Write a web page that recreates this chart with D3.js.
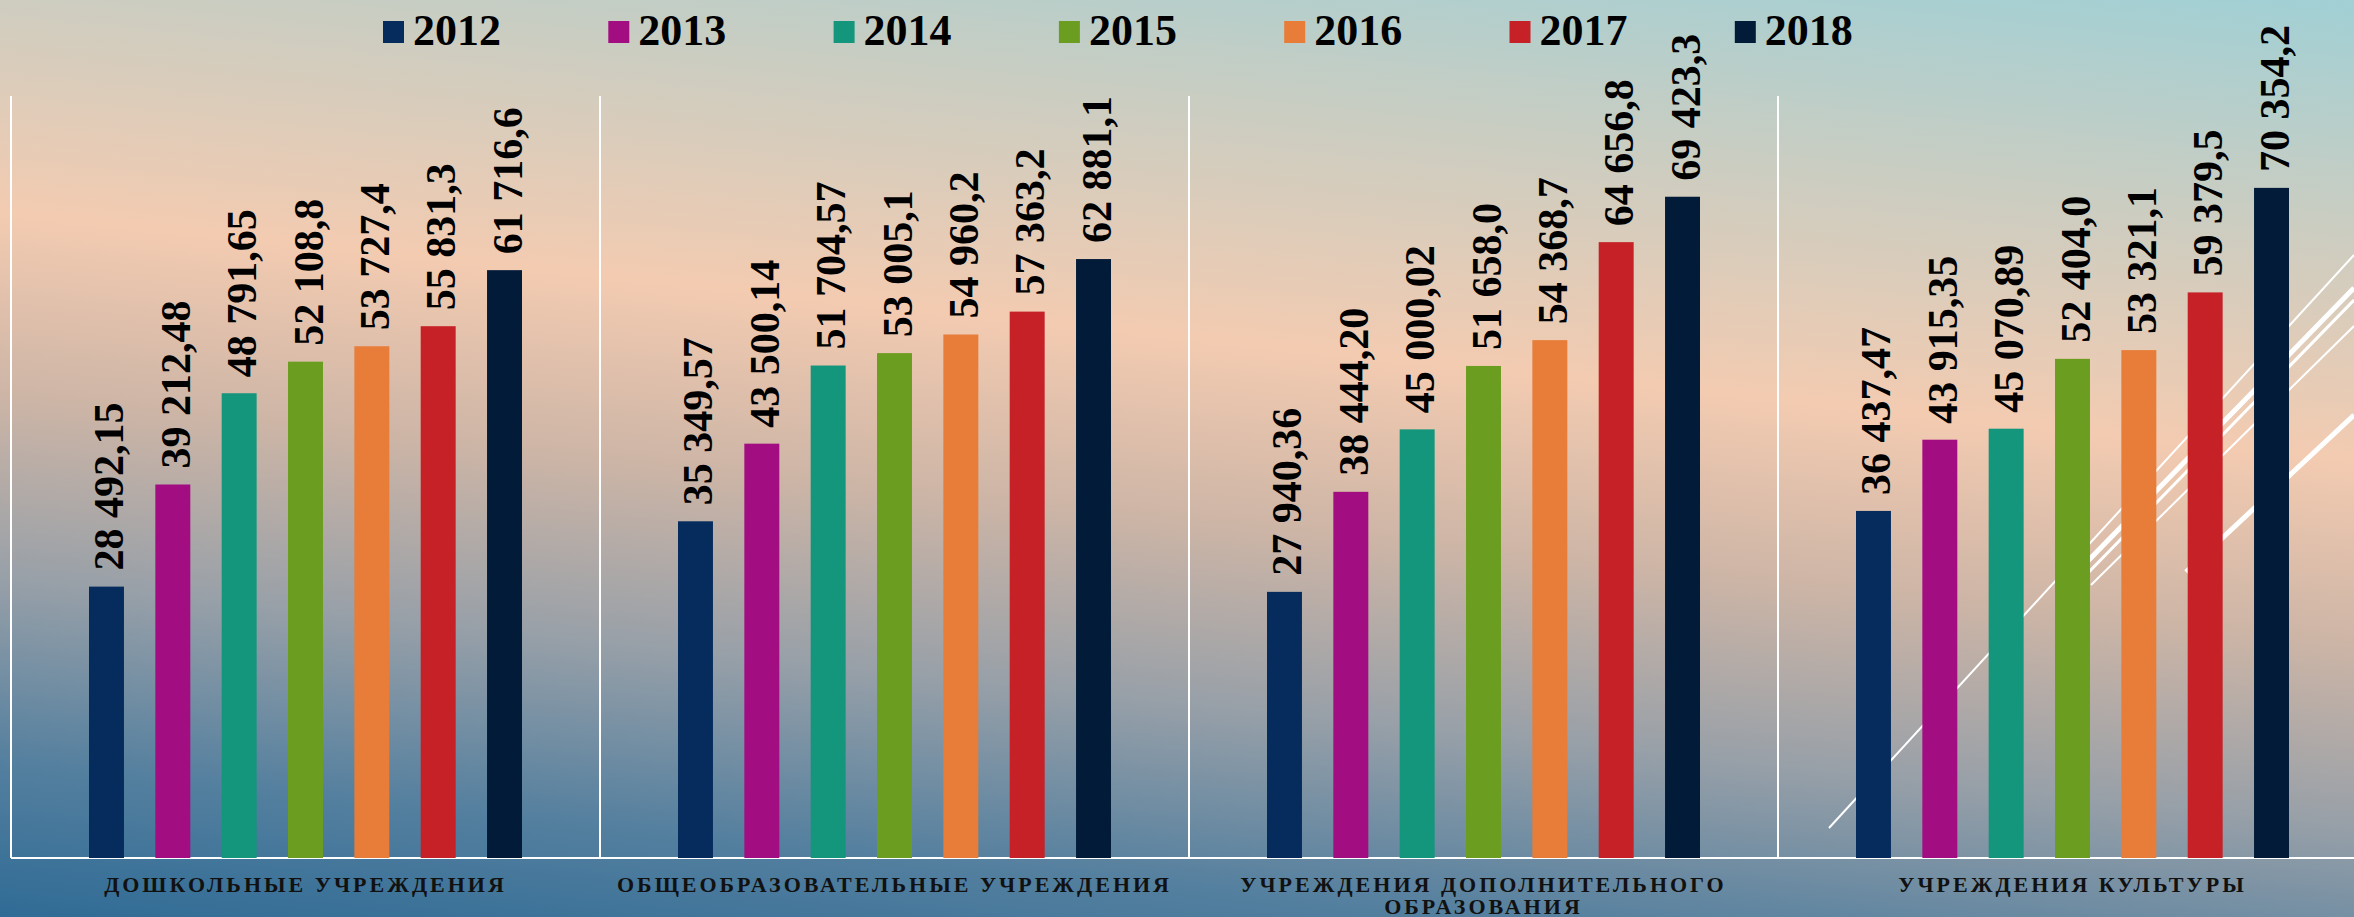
<!DOCTYPE html>
<html>
<head>
<meta charset="utf-8">
<script src="https://cdn.jsdelivr.net/npm/d3@7"></script>
<style>
  body { margin: 0; overflow: hidden; }
  text { font-family: "Liberation Serif", "Times New Roman", serif; font-weight: bold; }
</style>
</head>
<body>
<script>
var w = 2354;
var h = 917;

// data
var categories = ["ДОШКОЛЬНЫЕ УЧРЕЖДЕНИЯ", "ОБЩЕОБРАЗОВАТЕЛЬНЫЕ УЧРЕЖДЕНИЯ",
                  "УЧРЕЖДЕНИЯ ДОПОЛНИТЕЛЬНОГО ОБРАЗОВАНИЯ", "УЧРЕЖДЕНИЯ КУЛЬТУРЫ"];
var years = ["2012", "2013", "2014", "2015", "2016", "2017", "2018"];
var colors = ["#062c5e", "#a30d82", "#14967c", "#6b9e20", "#e77d38", "#c52126", "#021b39"];
var decimals = [2, 2, 2, 1, 1, 1, 1];
var preschool = [28492.15, 39212.48, 48791.65, 52108.8, 53727.4, 55831.3, 61716.6];
var general = [35349.57, 43500.14, 51704.57, 53005.1, 54960.2, 57363.2, 62881.1];
var additional = [27940.36, 38444.20, 45000.02, 51658.0, 54368.7, 64656.8, 69423.3];
var culture = [36437.47, 43915.35, 45070.89, 52404.0, 53321.1, 59379.5, 70354.2];
var series = [preschool, general, additional, culture];

var svg = d3.select("body").append("svg")
    .attr("width", w)
    .attr("height", h);

// background gradient
var defs = svg.append("defs");
var grad = defs.append("linearGradient")
    .attr("id", "bg")
    .attr("gradientUnits", "userSpaceOnUse")
    .attr("x1", 1240).attr("y1", -142)
    .attr("x2", 1114).attr("y2", 1058);
[[0, "#9cd0d7"], [0.2, "#c9cdc2"], [0.4, "#f3cbb1"], [0.55, "#cdb5a6"],
 [0.7, "#98a0a8"], [0.85, "#55809f"], [1, "#2a6894"]].forEach(function(s) {
  grad.append("stop").attr("offset", s[0]).attr("stop-color", s[1]);
});
svg.append("rect")
    .attr("width", w)
    .attr("height", h)
    .attr("fill", "url(#bg)");

// decorative white lines
var deco = [
  [1829, 828, 2354, 255, 2],
  [2085, 564, 2354, 288, 5],
  [2085, 576, 2354, 300, 3],
  [2091, 585, 2354, 326, 2],
  [2186, 572, 2354, 415, 5]
];
svg.selectAll(".deco").data(deco).enter().append("line")
    .attr("x1", d => d[0]).attr("y1", d => d[1])
    .attr("x2", d => d[2]).attr("y2", d => d[3])
    .attr("stroke", "white")
    .attr("stroke-width", d => d[4]);

// scales
var x0 = d3.scaleBand().domain(categories).range([11, 11 + 4 * 589]);
var x1 = d3.scaleBand().domain(years).range([78, 511]).paddingInner(0.473);
var y = d3.scaleLinear().domain([0, 80000]).range([858, 96]);

// frame lines
svg.selectAll(".sep").data(categories).enter().append("line")
    .attr("x1", d => x0(d)).attr("x2", d => x0(d))
    .attr("y1", y(80000)).attr("y2", y(0))
    .attr("stroke", "white")
    .attr("stroke-width", 2);
svg.append("line")
    .attr("x1", 11).attr("x2", w)
    .attr("y1", y(0)).attr("y2", y(0))
    .attr("stroke", "white")
    .attr("stroke-width", 2);

var locale = d3.formatLocale({decimal: ",", thousands: " ", grouping: [3], currency: ["", ""]});

// bars
var groups = svg.selectAll(".grp").data(categories).enter().append("g")
    .attr("transform", d => "translate(" + x0(d) + ",0)");

groups.selectAll("rect")
    .data((d, i) => series[i].map((v, j) => ({year: years[j], v: v, j: j})))
    .enter().append("rect")
    .attr("x", d => x1(d.year))
    .attr("y", d => y(d.v))
    .attr("width", x1.bandwidth())
    .attr("height", d => y(0) - y(d.v))
    .attr("fill", d => colors[d.j]);

groups.selectAll(".lbl")
    .data((d, i) => series[i].map((v, j) => ({year: years[j], v: v, j: j})))
    .enter().append("text")
    .attr("class", "lbl")
    .attr("transform", d => "translate(" + (x1(d.year) + x1.bandwidth() / 2 + 17) + "," + (y(d.v) - 16) + ") rotate(-90)")
    .attr("font-size", 42)
    .attr("fill", "black")
    .text(d => locale.format(",." + decimals[d.j] + "f")(d.v));

// category labels
var catLines = [["ДОШКОЛЬНЫЕ УЧРЕЖДЕНИЯ"], ["ОБЩЕОБРАЗОВАТЕЛЬНЫЕ УЧРЕЖДЕНИЯ"],
                ["УЧРЕЖДЕНИЯ ДОПОЛНИТЕЛЬНОГО", "ОБРАЗОВАНИЯ"], ["УЧРЕЖДЕНИЯ КУЛЬТУРЫ"]];
categories.forEach(function(c, i) {
  catLines[i].forEach(function(line, k) {
    svg.append("text")
        .attr("x", x0(c) + x0.bandwidth() / 2)
        .attr("y", 892 + k * 22)
        .attr("text-anchor", "middle")
        .attr("font-size", 22)
        .attr("letter-spacing", 3)
        .attr("fill", "#111")
        .text(line);
  });
});

// legend
var legend = svg.selectAll(".leg").data(years).enter().append("g")
    .attr("transform", (d, i) => "translate(" + (383 + i * 225.3) + ",0)");
legend.append("rect")
    .attr("y", 21)
    .attr("width", 21)
    .attr("height", 22)
    .attr("fill", (d, i) => colors[i]);
legend.append("text")
    .attr("x", 30)
    .attr("y", 45)
    .attr("font-size", 44)
    .attr("fill", "black")
    .text(d => d);
</script>
</body>
</html>
